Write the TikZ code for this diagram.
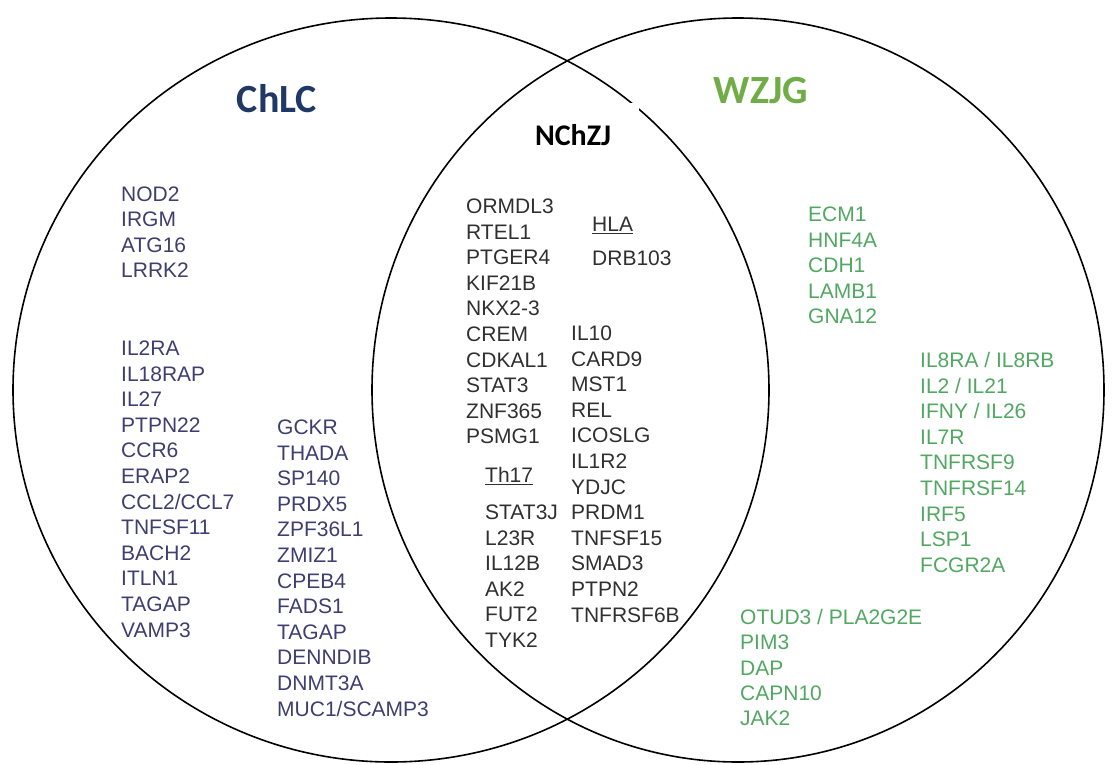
\documentclass[tikz,border=0pt]{standalone}
\usepackage{fontspec}
\setmainfont{Liberation Sans}
\newfontfamily\titlefont{Carlito}
\definecolor{chtitle}{RGB}{31,56,100}
\definecolor{wztitle}{RGB}{112,173,71}
\definecolor{chgene}{RGB}{62,62,112}
\definecolor{nzgene}{RGB}{48,48,48}
\definecolor{wzgene}{RGB}{82,168,98}
\tikzset{
  ring/.style={draw=black, line width=1.6pt},
  gene/.style={anchor=base west, inner sep=0pt, font=\fontsize{21}{25}\selectfont},
  cgene/.style={gene, text=chgene},
  ngene/.style={gene, text=nzgene},
  wgene/.style={gene, text=wzgene},
  settitle/.style={anchor=base, inner sep=0pt, font=\titlefont\bfseries\fontsize{40}{48}\selectfont},
}
\begin{document}
\begin{tikzpicture}[x=1pt, y=-1pt]
\path[use as bounding box, fill=white] (0,0) rectangle (1114,764);

% the two sets
\draw[ring] (391,390) ellipse [x radius=378pt, y radius=372pt];
\draw[ring] (738,390) ellipse [x radius=366pt, y radius=372pt];

% white patch behind the overlap label
\fill[white] (541,103) rectangle (639,152);

% set titles
\node[settitle, text=chtitle] (tch) at (277,112) {ChLC};
\node[settitle, text=wztitle] (twz) at (761,103) {WZJG};
\node[settitle, text=black, font=\titlefont\bfseries\fontsize{30}{36}\selectfont] (tnz) at (573,145) {NChZJ};

% ChLC only
\foreach \g [count=\i from 0] in {NOD2,IRGM,ATG16,LRRK2}
  \node[cgene] (chA\i) at (121,{201.5+25.4*\i}) {\g};
\foreach \g [count=\i from 0] in {IL2RA,IL18RAP,IL27,PTPN22,CCR6,ERAP2,CCL2/CCL7,TNFSF11,BACH2,ITLN1,TAGAP,VAMP3}
  \node[cgene] (chB\i) at (121,{355.5+25.6*\i}) {\g};
\foreach \g [count=\i from 0] in {GCKR,THADA,SP140,PRDX5,ZPF36L1,ZMIZ1,CPEB4,FADS1,TAGAP,DENNDIB,DNMT3A,MUC1/SCAMP3}
  \node[cgene] (chC\i) at (277,{434.5+25.6*\i}) {\g};

% shared genes
\foreach \g [count=\i from 0] in {ORMDL3,RTEL1,PTGER4,KIF21B,NKX2-3,CREM,CDKAL1,STAT3,ZNF365,PSMG1}
  \node[ngene] (nzA\i) at (466,{213.5+25.6*\i}) {\g};
\node[ngene] (th17) at (485,482.5) {\underline{Th17}};
\foreach \g [count=\i from 0] in {STAT3J,L23R,IL12B,AK2,FUT2,TYK2}
  \node[ngene] (nzB\i) at (485,{519.5+25.6*\i}) {\g};
\node[ngene] (hla) at (592,231.5) {\underline{HLA}};
\node[ngene] (drb) at (592,265.5) {DRB103};
\foreach \g [count=\i from 0] in {IL10,CARD9,MST1,REL,ICOSLG,IL1R2,YDJC,PRDM1,TNFSF15,SMAD3,PTPN2,TNFRSF6B}
  \node[ngene] (nzC\i) at (571,{340.5+25.6*\i}) {\g};

% WZJG only
\foreach \g [count=\i from 0] in {ECM1,HNF4A,CDH1,LAMB1,GNA12}
  \node[wgene] (wzA\i) at (808,{221.5+25.6*\i}) {\g};
\foreach \g [count=\i from 0] in {IL8RA / IL8RB,IL2 / IL21,IFNY / IL26,IL7R,TNFRSF9,TNFRSF14,IRF5,LSP1,FCGR2A}
  \node[wgene] (wzB\i) at (920,{367.5+25.6*\i}) {\g};
\foreach \g [count=\i from 0] in {OTUD3 / PLA2G2E,PIM3,DAP,CAPN10,JAK2}
  \node[wgene] (wzC\i) at (740,{624.5+25.3*\i}) {\g};
\end{tikzpicture}
\end{document}
